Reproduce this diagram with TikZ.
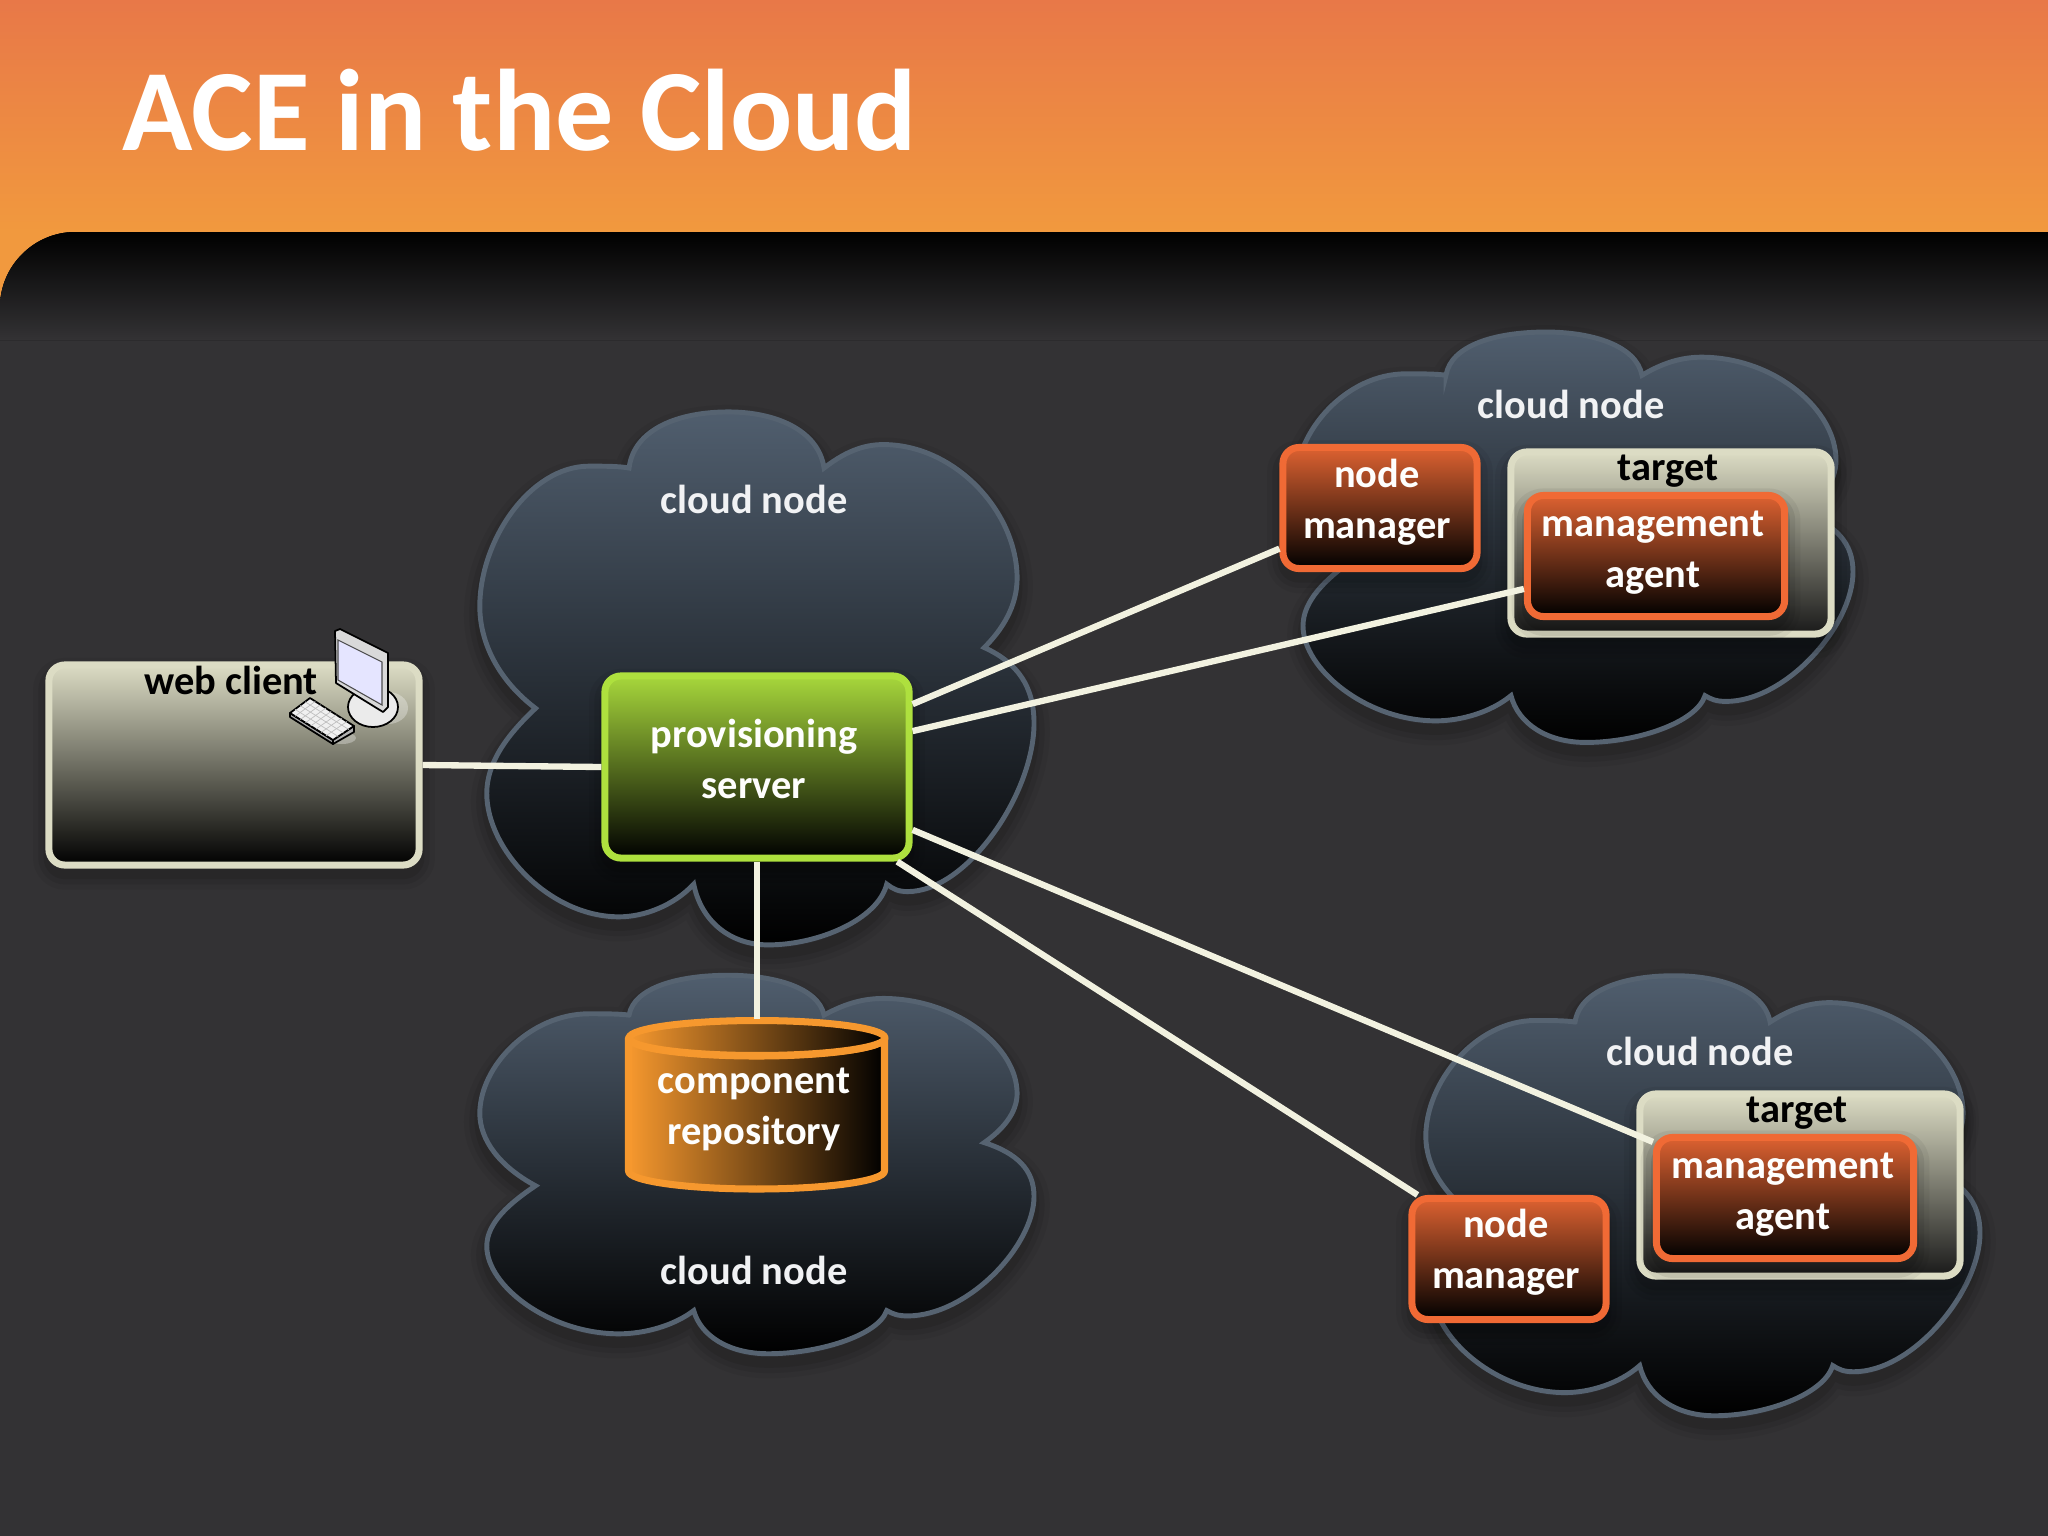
\documentclass[tikz,border=0pt]{standalone}
\usepackage{fontspec}
\setmainfont{Carlito}
\usetikzlibrary{calc}

\definecolor{slidebg}{RGB}{51,50,52}
\definecolor{linkcol}{RGB}{242,242,224}
\definecolor{cloudtop}{RGB}{80,94,110}
\definecolor{cloudedge}{RGB}{86,99,113}
\definecolor{creamcol}{RGB}{220,220,196}
\definecolor{orangecol}{RGB}{240,106,53}
\definecolor{greencol}{RGB}{174,224,62}
\definecolor{repocol}{RGB}{246,152,46}
\definecolor{bandtop}{RGB}{232,120,72}
\definecolor{bandbottom}{RGB}{241,153,62}

\tikzset{
  softshadow/.style={
    preaction={draw=black, draw opacity=.05, line width=9pt, line join=round, transform canvas={yshift=-2.5pt}},
    preaction={draw=black, draw opacity=.07, line width=6pt, line join=round, transform canvas={yshift=-2.5pt}},
    preaction={draw=black, draw opacity=.09, line width=3pt, line join=round, transform canvas={yshift=-2.5pt}}
  },
  cloudshape/.pic={
    \path[softshadow, draw=cloudedge, line width=1.4pt, top color=cloudtop, bottom color=black]
      (190,92) .. controls (195,50) and (240,32) .. (290,32)
      .. controls (335,32) and (380,50) .. (386,92)
      .. controls (410,72) and (430,66) .. (450,67)
      .. controls (520,70) and (580,140) .. (580,210)
      .. controls (580,240) and (565,265) .. (547,284)
      .. controls (580,300) and (597,325) .. (597,365)
      .. controls (597,440) and (530,545) .. (470,545)
      .. controls (460,545) and (455,542) .. (449,537)
      .. controls (440,575) and (380,602) .. (330,602)
      .. controls (290,602) and (262,575) .. (255,537)
      .. controls (235,560) and (205,572) .. (180,572)
      .. controls (110,572) and (47,500) .. (47,440)
      .. controls (47,405) and (70,375) .. (96,349)
      .. controls (60,320) and (40,280) .. (40,240)
      .. controls (40,170) and (90,90) .. (150,90)
      .. controls (165,90) and (180,90) .. cycle;
  }
}

\begin{document}
\begin{tikzpicture}[
      x=0.01cm, y=-0.01cm,
      font=\fontsize{11.5}{14.5}\selectfont\bfseries,
      basebox/.style ={rectangle, draw, line width=2pt, rounded corners=0.16cm, inner sep=0pt,
                       align=center, text=white!94!linkcol, softshadow},
      webbox/.style  ={basebox, draw=creamcol, top color=creamcol, middle color=creamcol!60!black, bottom color=black,
                       minimum width=3.7cm, minimum height=2cm},
      serverbox/.style={basebox, draw=greencol, top color=greencol!96!black, middle color=greencol!55!black, bottom color=black,
                       minimum width=3.04cm, minimum height=1.82cm},
      targetbox/.style={basebox, draw=creamcol, top color=creamcol, middle color=creamcol!60!black, bottom color=black!90,
                       minimum width=3.2cm, minimum height=1.82cm},
      managerbox/.style={basebox, draw=orangecol, top color=orangecol!92!black, bottom color=black,
                       minimum width=1.94cm, minimum height=1.21cm},
      agentbox/.style={basebox, draw=orangecol, top color=orangecol!92!black, bottom color=black,
                       minimum width=2.57cm, minimum height=1.21cm},
      repoface/.style={draw=repocol, line width=2pt, line join=round, left color=repocol, right color=black},
      repobox/.style ={rectangle, inner sep=0pt, outer sep=0pt, align=center, text=white!94!linkcol,
                       minimum width=2.62cm, minimum height=1.72cm},
      link/.style    ={draw=linkcol, line width=1.8pt},
      cloudlabel/.style={anchor=base, text=white!92!cloudtop},
      darklabel/.style ={anchor=base, text=black},
      iconpart/.style  ={draw=black, line width=.5pt, line join=round}
    ]

    \useasboundingbox (0,0) rectangle (2048,1536);

    % slide background
    \fill[top color=bandtop, bottom color=bandbottom] (0,0) rectangle (2048,232);
    \fill[bandbottom] (0,230) rectangle (80,310);
    \fill[slidebg] (0,1536) -- (0,307) .. controls (0,266) and (34,232) .. (75,232) -- (2048,232) -- (2048,1536) -- cycle;
    \fill[top color=black, bottom color=slidebg] (0,340) -- (0,307) .. controls (0,266) and (34,232) .. (75,232) -- (2048,232) -- (2048,340) -- cycle;
    \node[anchor=base west, text=white, font=\fontsize{33}{36}\selectfont\bfseries, inner sep=0pt] (title) at (122,150) {ACE in the Cloud};

    % clouds
    \pic[xscale=0.995, yscale=0.935] at (440,382) {cloudshape};
    \pic[xscale=0.995, yscale=0.664] at (440,954) {cloudshape};
    \pic[yscale=0.72] at (1256,309) {cloudshape};
    \pic[xscale=0.995, yscale=0.772] at (1386,951) {cloudshape};

    \node[cloudlabel] (cloudserver) at (754,513) {cloud node};
    \node[cloudlabel] (cloudrepo) at (754,1284) {cloud node};
    \node[cloudlabel] (cloudtopright) at (1571,418) {cloud node};
    \node[cloudlabel] (cloudbottomright) at (1700,1065) {cloud node};

    % boxes
    \node[webbox] (web) at (234,765) {};
    \node[serverbox] (server) at (757,767) {};

    \node[managerbox] (managerA) at (1380,508) {};
    \node[targetbox] (targetA) at (1671,543) {};
    \node[agentbox] (agentA) at (1656,556) {};

    \node[targetbox] (targetB) at (1800,1185) {};
    \node[agentbox] (agentB) at (1785,1198) {};
    \node[managerbox] (managerB) at (1509,1259) {};

    % repository drum
    \path[repoface] (628.5,1038) -- (628.5,1171)
          arc [start angle=180, end angle=0, x radius=128, y radius=18]
          -- (884.5,1038) arc [start angle=0, end angle=180, x radius=128, y radius=18] -- cycle;
    \path[repoface] (757,1038) ellipse [x radius=128, y radius=17.5];
    \node[repobox] (repo) at (757,1105) {};

    % box texts
    \node[darklabel] (weblabel) at (231,694) {web client};
    \node[darklabel] (targetlabelA) at (1668,480) {target};
    \node[darklabel] (targetlabelB) at (1797,1122) {target};
    \node[align=center, text=white!94!linkcol] (serverlabel) at (754,759) {provisioning\\server};
    \node[align=center, text=white!94!linkcol] (managerlabelA) at (1377,502) {node\\manager};
    \node[align=center, text=white!94!linkcol] (managerlabelB) at (1506,1252) {node\\manager};
    \node[align=center, text=white!94!linkcol] (agentlabelA) at (1653,553) {management\\agent};
    \node[align=center, text=white!94!linkcol] (agentlabelB) at (1783,1195) {management\\agent};
    \node[align=center, text=white!94!linkcol] (repolabel) at (754,1109) {component\\repository};

    % connectors
    \draw[link] (web.east) -- (server.west);
    \draw[link] (server.south) -- (repo.north);
    \draw[link] (server.22) -- (managerA.202);
    \draw[link] (server.13) -- (agentA.194);
    \draw[link] (server.-22) -- (agentB.157);
    \draw[link] (server.-34.2) -- (managerB.145.6);

    % computer icon
    \fill[white, opacity=.3] (388,708) ellipse [x radius=20, y radius=16];
    \fill[white, opacity=.3] (342,738) ellipse [x radius=14, y radius=6];
    \draw[iconpart, fill=white!92!black] (373,707) ellipse [x radius=25, y radius=20];
    \draw[iconpart, fill=white!85!black] (335,631) -- (340,629) -- (388,653) -- (388,707) -- (383,712) -- (336,683) -- cycle;
    \draw[line width=.3pt, draw=black!70, fill=white!90!blue] (338,640) -- (382,662) -- (382,705) -- (338,680) -- cycle;
    \draw[iconpart, fill=black!35] (290,713) -- (333,740) -- (333,744) -- (290,717) -- cycle;
    \draw[iconpart, fill=white!70!black] (333,740) -- (354,726) -- (354,732) -- (333,744) -- cycle;
    \draw[iconpart, fill=white!94!black] (290,713) coordinate (keyA) -- (310,698) coordinate (keyB) -- (354,726) coordinate (keyC) -- (333,740) coordinate (keyD) -- cycle;
    \foreach \t in {0.25,0.5,0.75} {
      \draw[draw=black!25, line width=.2pt] ($(keyA)!\t!(keyB)$) -- ($(keyD)!\t!(keyC)$);
    }
    \foreach \t in {0.12,0.24,0.36,0.48,0.6,0.72,0.84} {
      \draw[draw=black!25, line width=.2pt] ($(keyA)!\t!(keyD)$) -- ($(keyB)!\t!(keyC)$);
    }
\end{tikzpicture}
\end{document}
